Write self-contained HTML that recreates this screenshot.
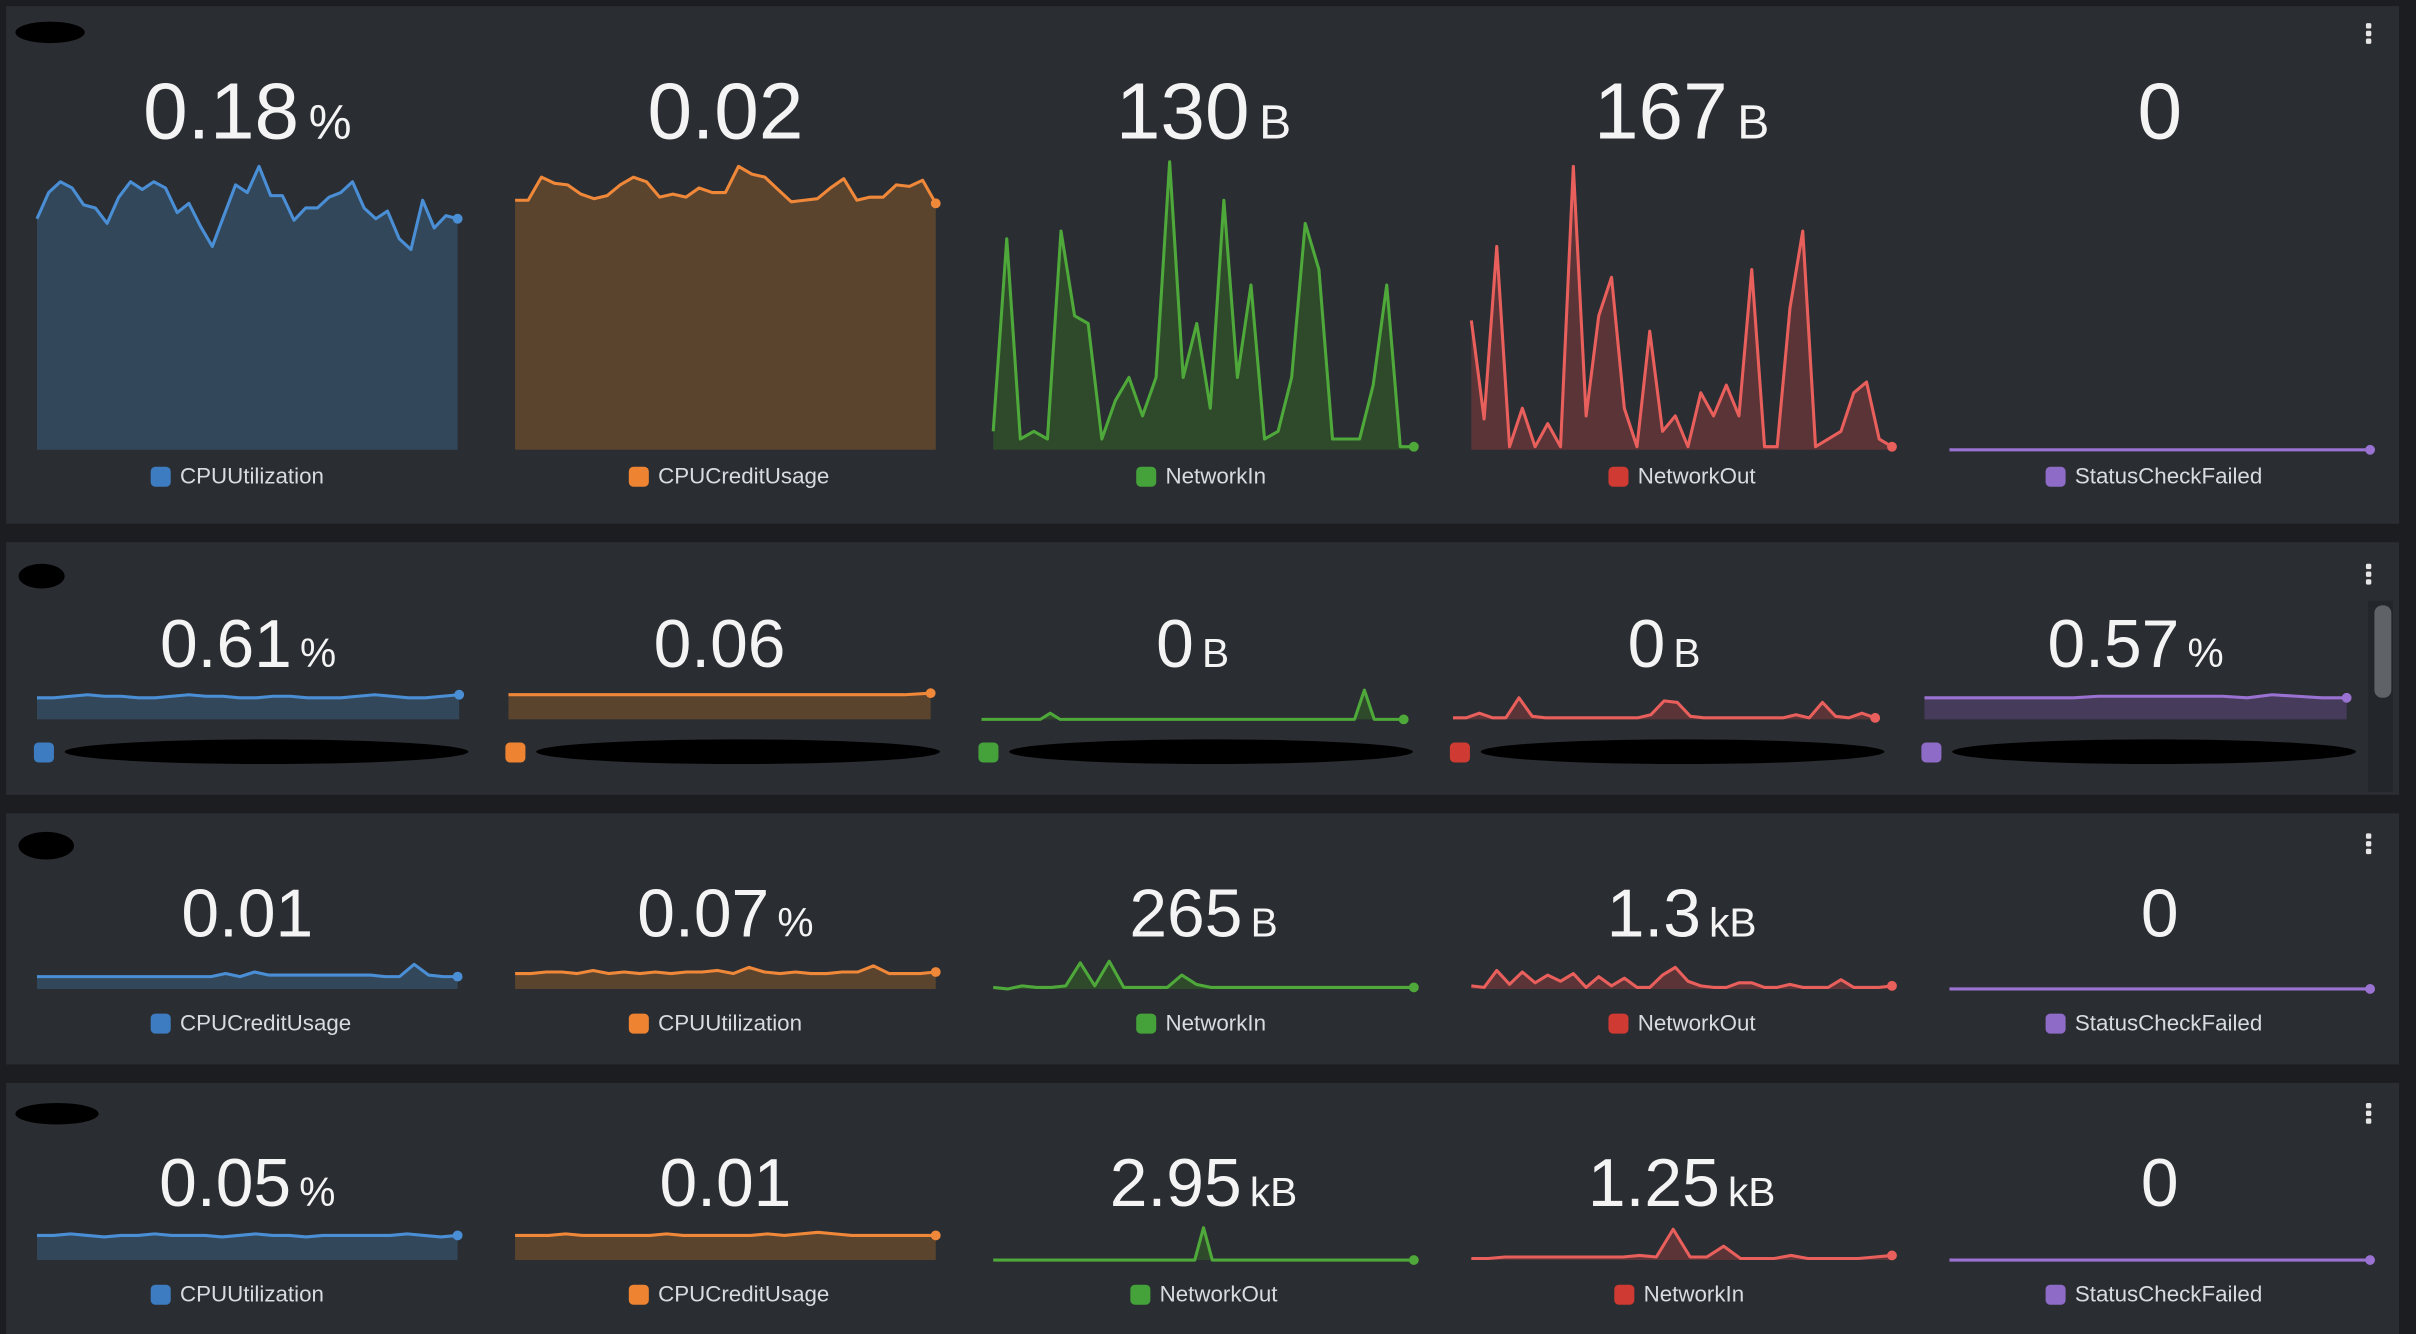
<!DOCTYPE html>
<html><head><meta charset="utf-8">
<style>
html,body{margin:0;padding:0;background:#191b1f;}
svg{display:block;}
text{font-family:"Liberation Sans",sans-serif;}
</style></head>
<body>
<svg id="dash" width="2416" height="1334" viewBox="0 0 1568 866" preserveAspectRatio="none" xmlns="http://www.w3.org/2000/svg">
<rect x="0" y="0" width="1568" height="866" fill="#1b1d21"/>
</svg>
<script>
// ---- data (sparkline values) ----
const p1Labels = ["CPUUtilization","CPUCreditUsage","NetworkIn","NetworkOut","StatusCheckFailed"];
const p1Values = ["0.18","0.02","130","167","0"];
const p1Units = ["%","","B","B",""];
const p1Cpu = [0.150,0.167,0.174,0.170,0.159,0.157,0.147,0.164,0.174,0.169,0.174,0.170,0.154,0.160,0.145,0.132,0.152,0.172,0.167,0.184,0.165,0.165,0.149,0.157,0.157,0.164,0.167,0.174,0.157,0.150,0.155,0.137,0.130,0.162,0.144,0.152,0.150];
const p1Credit = [0.0162,0.0162,0.0177,0.0173,0.0172,0.0166,0.0163,0.0165,0.0172,0.0177,0.0174,0.0164,0.0166,0.0164,0.0170,0.0167,0.0167,0.0184,0.0179,0.0177,0.0169,0.0161,0.0162,0.0163,0.0170,0.0176,0.0162,0.0164,0.0164,0.0172,0.0171,0.0175,0.0160];
const p1NetIn = [24,274,14,24,14,284,174,164,14,64,94,44,94,374,94,164,54,324,94,214,14,24,94,294,234,14,14,14,84,214,4,4];
const p1NetOut = [84,20,132,2,27,2,17,2,184,22,87,112,27,2,77,12,22,2,37,22,42,22,117,2,2,92,142,2,7,12,37,44,7,2];
const p1Status = [0,0,0,0,0,0,0,0,0,0];

const p2Values = ["0.61","0.06","0","0","0.57"];
const p2Units = ["%","","B","B","%"];
const p2Cpu = [14,14,15,16,15,15,14,14,15,16,15,15,14,14,15,15,14,14,14,15,16,15,14,14,15,16];
const p2Credit = [16,16,16,16,16,16,16,16,16,16,16,16,16,16,16,16,17];
const p2NetIn = [0,0,0,0,0,0,0,4,0,0,0,0,0,0,0,0,0,0,0,0,0,0,0,0,0,0,0,0,0,0,0,0,0,0,0,0,0,0,0,19,0,0,0,0];
const p2NetOut = [1,1,4,1,1,14,2,1,1,1,1,1,1,1,1,3,12,11,2,1,1,1,1,1,1,1,3,1,11,2,1,4,1];
const p2Status = [14,14,14,14,14,14,14,15,15,15,15,15,15,14,16,15,14,14];

const p3Labels = ["CPUCreditUsage","CPUUtilization","NetworkIn","NetworkOut","StatusCheckFailed"];
const p3Values = ["0.01","0.07","265","1.3","0"];
const p3Units = ["","%","B","kB",""];
const p3A = [8,8,8,8,8,8,8,8,8,8,8,8,8,10,8,11,9,9,9,9,9,9,9,9,8,8,16,9,8,8];
const p3B = [10,10,11,11,10,12,10,11,10,11,10,11,11,12,10,14,11,10,11,10,10,11,11,15,10,10,10,11];
const p3C = [1,0,2,1,1,2,17,2,18,1,1,1,1,9,3,1,1,1,1,1,1,1,1,1,1,1,1,1,1,1];
const p3D = [2,1,12,3,11,4,9,5,10,1,8,2,7,1,1,9,14,5,2,1,1,4,4,1,1,3,1,1,1,6,1,1,1,2];
const p3E = [0,0,0,0,0,0,0,0];

const p4Labels = ["CPUUtilization","CPUCreditUsage","NetworkOut","NetworkIn","StatusCheckFailed"];
const p4Values = ["0.05","0.01","2.95","1.25","0"];
const p4Units = ["%","","kB","kB",""];
const p4A = [16,16,17,16,15,16,16,17,16,16,16,15,16,17,16,16,15,16,16,16,16,16,17,16,15,16];
const p4B = [16,16,16,17,16,16,16,16,16,17,16,16,16,16,16,17,16,17,18,17,16,16,16,16,16,16];
const p4C = [0,0,0,0,0,0,0,0,0,0,0,0,0,0,0,0,0,0,0,0,0,0,0,0,21,0,0,0,0,0,0,0,0,0,0,0,0,0,0,0,0,0,0,0,0,0,0,0,0];
const p4D = [1,1,2,2,2,2,2,2,2,2,3,2,20,2,2,9,1,1,1,3,1,1,1,1,2,3];
const p4E = [0,0,0,0,0,0,0,0];

// ---- drawing ----
const NS = "http://www.w3.org/2000/svg";
const svg = document.getElementById("dash");
const COLORS = [
  {line:"#4a8fd6", fill:"#33475a", key:"#3d7cc0"},
  {line:"#f0883a", fill:"#5b442e", key:"#ee8432"},
  {line:"#4ea83a", fill:"#2e4a2b", key:"#45a23b"},
  {line:"#e85f5c", fill:"#5a3437", key:"#cf3a33"},
  {line:"#9a72d2", fill:"#473b5c", key:"#8d6bc7"}
];
function el(tag, attrs, parent){
  const e = document.createElementNS(NS, tag);
  for (const k in attrs) e.setAttribute(k, attrs[k]);
  (parent||svg).appendChild(e);
  return e;
}
function xScale(i, n, x0, x1){ return x0 + (x1-x0)*i/(n-1); }
function yScale(v, max, yBase, yTop){ return yBase - (yBase-yTop)*v/max; }

function spark(values, max, x0, x1, yBase, yTop, c, name){
  const g = el("g", {});
  
  
  const n = values.length;
  const pts = values.map((v,i)=>[xScale(i,n,x0,x1), yScale(v,max,yBase,yTop)]);
  const d = pts.map((p,i)=>(i?"L":"M")+p[0].toFixed(1)+","+p[1].toFixed(1)).join("");
  const area = el("path", {d: d+"L"+x1+","+yBase+"L"+x0+","+yBase+"Z", fill:c.fill}, g);
  
  
  const line = el("path", {d:d, fill:"none", stroke:c.line, "stroke-width":2, "stroke-linejoin":"round"}, g);
  
  
  const last = pts[n-1];
  const dot = el("circle", {cx:last[0], cy:last[1], r:3.2, fill:c.line}, g);
  
  
}
function bigValue(cx, y, val, unit, size, name){
  const t = el("text", {x:cx, y:y, "text-anchor":"middle", fill:"#f4f4f4", "font-size":size});
  
  
  t.textContent = val;
  if (unit){
    const s = el("tspan", {"font-size":size*0.6, dx:size*0.12}, t);
    s.textContent = unit;
  }
}
function legend(cx, y, label, c, name){
  const g = el("g", {});
  
  
  const w = label.length*7.6 + 19;
  const x = cx - w/2;
  el("rect", {x:x, y:y-11, width:13, height:13, rx:3, fill:c.key}, g);
  const t = el("text", {x:x+19, y:y, fill:"#d8dcdf", "font-size":14.5}, g);
  t.textContent = label;
}
function panel(y, h, name){
  const r = el("rect", {x:4, y:y, width:1553, height:h, fill:"#2a2d32"});
  
  
}
function menu(y, name){
  const g = el("g", {});
  
  
  for (let k=0;k<3;k++) el("rect", {x:1535.5, y:y+k*5, width:3.5, height:3.5, rx:1, fill:"#e6e6e6"}, g);
}
function scribble(x, y, w, h, name){
  const e = el("ellipse", {cx:x+w/2, cy:y+h/2, rx:w/2, ry:h/2, fill:"#000"});
  
  
}

// panels
panel(4, 336, "panel-instance-1");
panel(352, 164, "panel-instance-2");
panel(528, 163, "panel-instance-3");
panel(703, 163, "panel-instance-4");
scribble(10, 14, 45, 14, "panel-1-title-redacted");
scribble(12, 366, 30, 16, "panel-2-title-redacted");
scribble(12, 540, 36, 18, "panel-3-title-redacted");
scribble(10, 716, 54, 14, "panel-4-title-redacted");
menu(15, "panel-1-menu-button");
menu(366, "panel-2-menu-button");
menu(541, "panel-3-menu-button");
menu(716, "panel-4-menu-button");
// scrollbar panel 2
el("rect", {x:1537, y:390, width:16, height:124, fill:"#23262a"});
const thumb = el("rect", {x:1541, y:393, width:11, height:60, rx:5, fill:"#5f6266"});



const pitch = 310.3, cw = 273;
// panel 1
const p1Series = [p1Cpu, p1Credit, p1NetIn, p1NetOut, p1Status];
const p1Max = [0.187, 0.0187, 374, 187, 1];
for (let i=0;i<5;i++){
  const x0 = 24 + i*pitch, x1 = x0+cw, cx=(x0+x1)/2;
  bigValue(cx, 90, p1Values[i], p1Units[i], 52, "p1-value-"+p1Labels[i].toLowerCase());
  spark(p1Series[i], p1Max[i], x0, x1, 292, 105, COLORS[i], "p1-chart-"+p1Labels[i].toLowerCase());
  legend(cx, 314, p1Labels[i], COLORS[i], "p1-legend-"+p1Labels[i].toLowerCase());
}
// panel 2
const p2X = [24, 330, 637, 943, 1249];
const p2Series = [p2Cpu, p2Credit, p2NetIn, p2NetOut, p2Status];
for (let i=0;i<5;i++){
  const x0 = p2X[i], x1 = x0+274, cx=(x0+x1)/2;
  bigValue(cx, 433, p2Values[i], p2Units[i], 44, "p2-value-"+i);
  spark(p2Series[i], 21, x0, x1, 467, 446, COLORS[i], "p2-chart-"+i);
  const sq = el("rect", {x:x0-2, y:482, width:13, height:13, rx:3, fill:COLORS[i].key});
  
  
  scribble(x0+18, 480, 262, 16, "p2-legend-label-redacted-"+i);
}
// panel 3
const p3Series = [p3A, p3B, p3C, p3D, p3E];
for (let i=0;i<5;i++){
  const x0 = 24 + i*pitch, x1 = x0+cw, cx=(x0+x1)/2;
  bigValue(cx, 608, p3Values[i], p3Units[i], 44, "p3-value-"+p3Labels[i].toLowerCase());
  spark(p3Series[i], 21, x0, x1, 642, 621, COLORS[i], "p3-chart-"+p3Labels[i].toLowerCase());
  legend(cx, 669, p3Labels[i], COLORS[i], "p3-legend-"+p3Labels[i].toLowerCase());
}
// panel 4
const p4Series = [p4A, p4B, p4C, p4D, p4E];
for (let i=0;i<5;i++){
  const x0 = 24 + i*pitch, x1 = x0+cw, cx=(x0+x1)/2;
  bigValue(cx, 783, p4Values[i], p4Units[i], 44, "p4-value-"+p4Labels[i].toLowerCase());
  spark(p4Series[i], 21, x0, x1, 818, 797, COLORS[i], "p4-chart-"+p4Labels[i].toLowerCase());
  legend(cx, 845, p4Labels[i], COLORS[i], "p4-legend-"+p4Labels[i].toLowerCase());
}
</script>
</body></html>
